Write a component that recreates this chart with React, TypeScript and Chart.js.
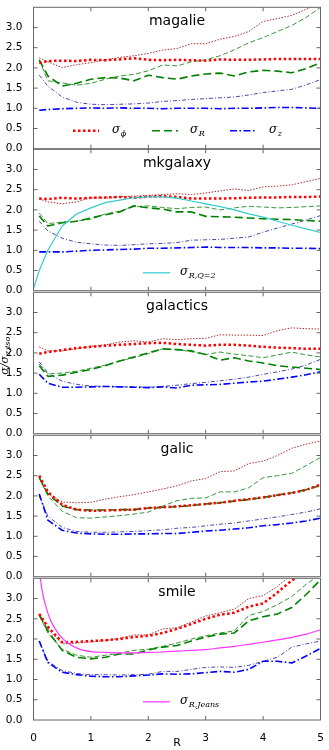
import React, { useEffect, useRef } from 'react';
import { Chart, registerables } from 'chart.js';

Chart.register(...registerables);

// ---------- data ----------
const R = [0.1, 0.25, 0.5, 0.75, 1, 1.25, 1.5, 1.75, 2, 2.25, 2.5, 2.75, 3, 3.25, 3.5, 3.75, 4, 4.25, 4.5, 4.75, 5];
const R_CYAN = [0, 0.1, 0.25, 0.5, 0.75, 1, 1.25, 1.5, 1.75, 2, 2.25, 2.5, 2.75, 3, 3.25, 3.5, 3.75, 4, 4.25, 4.5, 4.75, 5];
const R_JEANS = [0.1, 0.15, 0.2, 0.3, 0.45, 0.6, 0.8, 1, 1.25, 1.5, 1.75, 2, 2.25, 2.5, 2.75, 3, 3.25, 3.5, 3.75, 4, 4.25, 4.5, 4.75, 5];

const X_TICKS = [1, 2, 3, 4];
const Y_TICKS = [0.5, 1, 1.5, 2, 2.5, 3];

// magalie
const magPhi1 = [2.12, 2.17, 2.18, 2.17, 2.2, 2.19, 2.21, 2.24, 2.2, 2.19, 2.2, 2.19, 2.18, 2.21, 2.2, 2.2, 2.21, 2.22, 2.22, 2.22, 2.22];
const magPhi2 = [2.25, 2.15, 2.01, 2.08, 2.13, 2.2, 2.26, 2.3, 2.36, 2.44, 2.48, 2.6, 2.6, 2.71, 2.78, 2.9, 3.15, 3.22, 3.3, 3.45, 3.6];
const magR1 = [2.2, 1.8, 1.55, 1.62, 1.72, 1.76, 1.75, 1.68, 1.82, 1.76, 1.72, 1.8, 1.85, 1.87, 1.8, 1.9, 1.94, 1.92, 1.88, 1.98, 2.13];
const magR2 = [2.2, 1.68, 1.63, 1.57, 1.62, 1.72, 1.8, 1.84, 1.93, 2.07, 2.05, 2.15, 2.2, 2.3, 2.45, 2.62, 2.75, 2.9, 3.05, 3.25, 3.5];
const magZ1 = [0.95, 0.97, 0.99, 1.0, 1.01, 1.0, 1.01, 1.0, 1.0, 0.99, 1.0, 1.0, 1.0, 0.99, 1.0, 1.0, 1.01, 1.02, 1.02, 1.01, 1.0];
const magZ2 = [1.82, 1.55, 1.28, 1.15, 1.1, 1.09, 1.1, 1.11, 1.13, 1.17, 1.19, 1.22, 1.24, 1.26, 1.28, 1.33, 1.39, 1.43, 1.47, 1.58, 1.71];

// mkgalaxy
const mkgPhi1 = [2.28, 2.27, 2.3, 2.28, 2.3, 2.31, 2.32, 2.3, 2.33, 2.34, 2.32, 2.28, 2.28, 2.28, 2.29, 2.3, 2.31, 2.31, 2.32, 2.32, 2.33];
const mkgPhi2 = [2.27, 2.2, 2.15, 2.2, 2.3, 2.29, 2.33, 2.34, 2.36, 2.38, 2.4, 2.38, 2.42, 2.47, 2.52, 2.48, 2.57, 2.59, 2.62, 2.7, 2.78];
const mkgR1 = [1.85, 1.6, 1.68, 1.72, 1.8, 1.88, 1.95, 2.1, 2.05, 2.02, 1.95, 1.95, 1.84, 1.83, 1.82, 1.8, 1.78, 1.77, 1.76, 1.74, 1.72];
const mkgR2 = [1.92, 1.66, 1.7, 1.72, 1.77, 1.9, 1.97, 2.08, 2.1, 2.06, 2.03, 2.06, 2.07, 2.0, 2.05, 2.09, 2.07, 2.05, 2.06, 2.08, 2.1];
const mkgZ1 = [0.96, 0.96, 0.96, 0.98, 1.0, 1.01, 1.02, 1.03, 1.05, 1.05, 1.06, 1.07, 1.08, 1.07, 1.07, 1.07, 1.06, 1.06, 1.05, 1.05, 1.04];
const mkgZ2 = [1.72, 1.48, 1.3, 1.2, 1.16, 1.13, 1.12, 1.14, 1.16, 1.17, 1.19, 1.25, 1.26, 1.27, 1.3, 1.33, 1.45, 1.55, 1.65, 1.75, 1.86];
const mkgQ2 = [0.05, 0.5, 1.0, 1.6, 1.9, 2.05, 2.18, 2.24, 2.3, 2.32, 2.32, 2.29, 2.22, 2.15, 2.08, 2.0, 1.9, 1.82, 1.72, 1.62, 1.53, 1.44];

// galactics
const galPhi1 = [1.98, 2.02, 2.07, 2.12, 2.15, 2.18, 2.2, 2.22, 2.24, 2.25, 2.22, 2.2, 2.18, 2.2, 2.2, 2.18, 2.15, 2.13, 2.12, 2.1, 2.1];
const galPhi2 = [2.15, 2.05, 2.05, 2.1, 2.16, 2.2, 2.27, 2.3, 2.27, 2.35, 2.33, 2.35, 2.36, 2.45, 2.44, 2.44, 2.43, 2.55, 2.62, 2.6, 2.59];
const galR1 = [1.68, 1.42, 1.45, 1.52, 1.59, 1.68, 1.8, 1.9, 2.0, 2.1, 2.08, 2.05, 1.96, 1.82, 1.88, 1.8, 1.75, 1.68, 1.65, 1.62, 1.59];
const galR2 = [1.72, 1.48, 1.5, 1.55, 1.62, 1.7, 1.8, 1.88, 1.98, 2.1, 2.08, 2.03, 1.96, 2.02, 1.97, 1.93, 1.88, 1.95, 2.02, 1.95, 1.9];
const galZ1 = [1.47, 1.25, 1.15, 1.15, 1.16, 1.17, 1.16, 1.15, 1.14, 1.16, 1.13, 1.2, 1.21, 1.22, 1.25, 1.28, 1.3, 1.35, 1.4, 1.46, 1.53];
const galZ2 = [1.78, 1.5, 1.3, 1.22, 1.18, 1.17, 1.16, 1.16, 1.15, 1.17, 1.2, 1.24, 1.27, 1.31, 1.35, 1.4, 1.47, 1.53, 1.6, 1.7, 1.84];

// galic
const galicPhi1 = [2.5, 2.1, 1.78, 1.66, 1.63, 1.64, 1.65, 1.66, 1.7, 1.72, 1.74, 1.77, 1.8, 1.83, 1.88, 1.92, 1.96, 2.02, 2.07, 2.15, 2.28];
const galicPhi2 = [2.45, 2.05, 1.85, 1.83, 1.84, 1.92, 1.98, 2.03, 2.1, 2.17, 2.25, 2.37, 2.43, 2.6, 2.62, 2.8, 2.86, 3.0, 3.18, 3.28, 3.36];
const galicR1 = [2.45, 2.05, 1.75, 1.66, 1.65, 1.65, 1.66, 1.66, 1.7, 1.72, 1.73, 1.76, 1.8, 1.83, 1.87, 1.91, 1.96, 2.02, 2.08, 2.15, 2.26];
const galicR2 = [2.45, 2.0, 1.62, 1.46, 1.45, 1.48, 1.51, 1.55, 1.6, 1.75, 1.88, 1.94, 1.95, 2.1, 2.1, 2.2, 2.45, 2.5, 2.56, 2.75, 2.95];
const galicZ1 = [2.05, 1.4, 1.15, 1.08, 1.06, 1.05, 1.05, 1.06, 1.06, 1.07, 1.07, 1.1, 1.13, 1.15, 1.18, 1.21, 1.26, 1.29, 1.33, 1.38, 1.45];
const galicZ2 = [2.0, 1.5, 1.22, 1.12, 1.1, 1.1, 1.11, 1.12, 1.14, 1.16, 1.2, 1.22, 1.26, 1.3, 1.33, 1.38, 1.43, 1.48, 1.54, 1.6, 1.68];

// smile
const smPhi1 = [2.62, 2.3, 1.92, 1.93, 1.95, 1.97, 2.0, 2.05, 2.08, 2.15, 2.25, 2.37, 2.5, 2.6, 2.65, 2.8, 2.88, 3.15, 3.45, 3.65, 3.85];
const smPhi2 = [2.62, 2.25, 1.88, 1.9, 1.93, 1.96, 2.02, 2.1, 2.1, 2.25, 2.28, 2.42, 2.57, 2.65, 2.74, 3.0, 3.07, 3.3, 3.6, 3.75, 3.95];
const smR1 = [2.6, 2.2, 1.72, 1.55, 1.51, 1.55, 1.63, 1.63, 1.73, 1.8, 1.84, 1.95, 2.05, 2.12, 2.15, 2.45, 2.55, 2.62, 2.78, 3.1, 3.46];
const smR2 = [2.58, 2.15, 1.75, 1.6, 1.55, 1.6, 1.65, 1.72, 1.75, 1.82, 1.9, 2.0, 2.08, 2.15, 2.2, 2.58, 2.68, 2.85, 3.05, 3.35, 3.6];
const smZ1 = [1.95, 1.42, 1.18, 1.12, 1.08, 1.07, 1.07, 1.09, 1.11, 1.14, 1.13, 1.14, 1.17, 1.2, 1.18, 1.25, 1.45, 1.45, 1.41, 1.58, 1.77];
const smZ2 = [1.95, 1.45, 1.22, 1.15, 1.12, 1.12, 1.11, 1.12, 1.13, 1.2, 1.2, 1.25, 1.3, 1.31, 1.3, 1.35, 1.45, 1.55, 1.8, 1.88, 1.95];
const smJeans = [3.7, 3.2, 2.88, 2.45, 2.1, 1.9, 1.75, 1.69, 1.67, 1.66, 1.66, 1.67, 1.68, 1.7, 1.72, 1.74, 1.78, 1.82, 1.87, 1.92, 1.98, 2.04, 2.12, 2.23];

// ---------- styles / layout ----------
type Style = { color: string; width: number; dash: number[] };
const STYLES: Record<string, Style> = {
  phiThick: { color: '#ff0000', width: 2.5, dash: [2.5, 2.5] },
  phiThin: { color: '#a83030', width: 1, dash: [1.5, 1.5] },
  rThick: { color: '#008000', width: 1.6, dash: [8, 4] },
  rThin: { color: '#3a963a', width: 1, dash: [5, 2.5] },
  zThick: { color: '#0000ff', width: 1.6, dash: [7, 2.5, 1.5, 2.5] },
  zThin: { color: '#4848b0', width: 1, dash: [4, 2, 1, 2] },
  cyan: { color: '#33cccc', width: 1.2, dash: [] },
  magenta: { color: '#ff33ff', width: 1.2, dash: [] },
};

interface Series { x: number[]; y: number[]; style: string; smooth?: boolean }
interface LegendItem { style: string; x1: number; x2: number; tx: number; sub: string }
interface Panel { name: string; series: Series[]; legend: LegendItem[] }

function six(phi1: number[], phi2: number[], r1: number[], r2: number[], z1: number[], z2: number[]): Series[] {
  return [
    { x: R, y: phi1, style: 'phiThick' },
    { x: R, y: r1, style: 'rThick' },
    { x: R, y: z1, style: 'zThick' },
    { x: R, y: phi2, style: 'phiThin' },
    { x: R, y: r2, style: 'rThin' },
    { x: R, y: z2, style: 'zThin' },
  ];
}

const PANELS: Panel[] = [
  {
    name: 'magalie',
    series: six(magPhi1, magPhi2, magR1, magR2, magZ1, magZ2),
    legend: [
      { style: 'phiThick', x1: 73, x2: 99, tx: 112, sub: 'ϕ' },
      { style: 'rThick', x1: 152, x2: 178, tx: 190, sub: 'R' },
      { style: 'zThick', x1: 230, x2: 256, tx: 269, sub: 'z' },
    ],
  },
  {
    name: 'mkgalaxy',
    series: [{ x: R_CYAN, y: mkgQ2, style: 'cyan' }, ...six(mkgPhi1, mkgPhi2, mkgR1, mkgR2, mkgZ1, mkgZ2)],
    legend: [{ style: 'cyan', x1: 143, x2: 170, tx: 180, sub: 'R,Q=2' }],
  },
  { name: 'galactics', series: six(galPhi1, galPhi2, galR1, galR2, galZ1, galZ2), legend: [] },
  { name: 'galic', series: six(galicPhi1, galicPhi2, galicR1, galicR2, galicZ1, galicZ2), legend: [] },
  {
    name: 'smile',
    series: [{ x: R_JEANS, y: smJeans, style: 'magenta', smooth: true }, ...six(smPhi1, smPhi2, smR1, smR2, smZ1, smZ2)],
    legend: [{ style: 'magenta', x1: 143, x2: 170, tx: 180, sub: 'R,Jeans' }],
  },
];

const W = 329;
const FIG_TOP = 6;
const PANEL_H = 142.8;
const AREA_LEFT = 33.5;
const AREA_RIGHT = 320.5;
const X_AXIS_H = 29.6;
const FRAME = '#666666';
const TICK_FONT = { family: '"DejaVu Sans", sans-serif', size: 10.5 };

function drawSigma(ctx: CanvasRenderingContext2D, x: number, y: number, sub: string) {
  ctx.textAlign = 'left';
  ctx.textBaseline = 'alphabetic';
  ctx.fillStyle = '#000';
  ctx.font = 'italic 12px "DejaVu Serif", serif';
  ctx.fillText('σ', x, y);
  const w = ctx.measureText('σ').width;
  ctx.font = 'italic 8px "DejaVu Serif", serif';
  ctx.fillText(sub, x + w + 0.5, y + 3);
}

function makeDeco(panel: Panel, index: number) {
  return {
    id: 'deco' + index,
    afterDraw(chart: any) {
      const { ctx, chartArea: a } = chart;
      const xs = chart.scales.x;
      const ys = chart.scales.y;
      ctx.save();
      ctx.setLineDash([]);
      ctx.strokeStyle = FRAME;
      ctx.lineWidth = 1;
      ctx.strokeRect(a.left, a.top, a.right - a.left, a.bottom - a.top);
      ctx.beginPath();
      for (const v of X_TICKS) {
        const px = xs.getPixelForValue(v);
        ctx.moveTo(px, a.bottom);
        ctx.lineTo(px, a.bottom - 4);
        ctx.moveTo(px, a.top);
        ctx.lineTo(px, a.top + 4);
      }
      for (const v of Y_TICKS) {
        const py = ys.getPixelForValue(v);
        ctx.moveTo(a.left, py);
        ctx.lineTo(a.left + 4, py);
        ctx.moveTo(a.right, py);
        ctx.lineTo(a.right - 4, py);
      }
      ctx.stroke();

      // panel title
      ctx.fillStyle = '#000';
      ctx.font = '14px "DejaVu Sans", sans-serif';
      ctx.textAlign = 'center';
      ctx.textBaseline = 'middle';
      ctx.fillText(panel.name, (a.left + a.right) / 2, a.top + 14);

      // legend
      const ly = a.top + 123.5;
      for (const it of panel.legend) {
        const st = STYLES[it.style];
        ctx.save();
        ctx.setLineDash(st.dash);
        ctx.lineWidth = st.width;
        ctx.strokeStyle = st.color;
        ctx.beginPath();
        ctx.moveTo(it.x1, ly);
        ctx.lineTo(it.x2, ly);
        ctx.stroke();
        ctx.restore();
        drawSigma(ctx, it.tx, ly + 2.5, it.sub);
      }

      // shared y-axis label
      if (index === 2) {
        ctx.save();
        ctx.translate(5, a.top + PANEL_H / 2 - 8);
        ctx.rotate(-Math.PI / 2);
        ctx.fillStyle = '#000';
        ctx.textBaseline = 'middle';
        ctx.textAlign = 'left';
        ctx.font = 'italic 11px "DejaVu Serif", serif';
        const main = 'σ/σ';
        const mw = ctx.measureText(main).width;
        ctx.font = 'italic 8px "DejaVu Serif", serif';
        const sub = 'z,iso';
        const sw = ctx.measureText(sub).width;
        const x0 = -(mw + sw + 1) / 2;
        ctx.font = 'italic 11px "DejaVu Serif", serif';
        ctx.fillText(main, x0, 0);
        ctx.font = 'italic 8px "DejaVu Serif", serif';
        ctx.fillText(sub, x0 + mw + 1, 3);
        ctx.restore();
      }
      ctx.restore();
    },
  };
}

function PanelChart({ panel, index }: { panel: Panel; index: number }) {
  const ref = useRef<HTMLCanvasElement>(null);
  const top = FIG_TOP + index * PANEL_H;
  const canvasTop = Math.floor(top) - 8;
  const padTop = top - canvasTop;
  const isLast = index === PANELS.length - 1;
  const canvasH = isLast ? 190 : 160;
  const padBottom = canvasH - padTop - PANEL_H - (isLast ? X_AXIS_H : 0);

  useEffect(() => {
    const canvas = ref.current;
    if (!canvas) return;
    const chart = new Chart(canvas, {
      type: 'line',
      data: {
        datasets: panel.series.map((s) => {
          const st = STYLES[s.style];
          return {
            data: s.x.map((x, i) => ({ x, y: s.y[i] })),
            borderColor: st.color,
            backgroundColor: st.color,
            borderWidth: st.width,
            borderDash: st.dash,
            borderCapStyle: 'butt',
            borderJoinStyle: 'round',
            pointRadius: 0,
            fill: false,
            tension: s.smooth ? 0.4 : 0,
            cubicInterpolationMode: s.smooth ? 'monotone' : 'default',
          } as any;
        }),
      },
      options: {
        responsive: false,
        maintainAspectRatio: false,
        animation: false,
        devicePixelRatio: 1,
        events: [],
        layout: { padding: { left: 0, right: W - AREA_RIGHT, top: padTop, bottom: padBottom } },
        plugins: { legend: { display: false }, tooltip: { enabled: false } },
        scales: {
          x: {
            type: 'linear',
            min: 0,
            max: 5,
            display: isLast,
            ticks: { stepSize: 1, font: TICK_FONT, color: '#000', padding: 4, maxRotation: 0, callback: (v: any) => String(v) },
            grid: { display: false },
            border: { display: false },
            title: { display: true, text: 'R', font: { family: '"DejaVu Sans", sans-serif', size: 11 }, color: '#000', padding: { top: 0, bottom: 0 } },
            afterFit: (s: any) => { s.height = isLast ? X_AXIS_H : 0; },
          },
          y: {
            type: 'linear',
            min: 0,
            max: 3.5,
            ticks: {
              stepSize: 0.5,
              font: TICK_FONT,
              color: '#000',
              padding: 3,
              callback: (v: any) => (Number(v) > 3.25 ? '' : Number(v).toFixed(1)),
            },
            grid: { display: false },
            border: { display: false },
            afterFit: (s: any) => { s.width = AREA_LEFT; },
          },
        },
      } as any,
      plugins: [makeDeco(panel, index)],
    });
    return () => chart.destroy();
  }, []);

  return (
    <canvas
      ref={ref}
      width={W}
      height={canvasH}
      style={{ position: 'absolute', left: 0, top: canvasTop, width: W, height: canvasH }}
    />
  );
}

export default function App() {
  return (
    <div style={{ position: 'absolute', left: 0, top: 0, width: W, height: 750, background: '#fff', overflow: 'hidden' }}>
      {PANELS.map((p, i) => (
        <PanelChart key={p.name} panel={p} index={i} />
      ))}
    </div>
  );
}
